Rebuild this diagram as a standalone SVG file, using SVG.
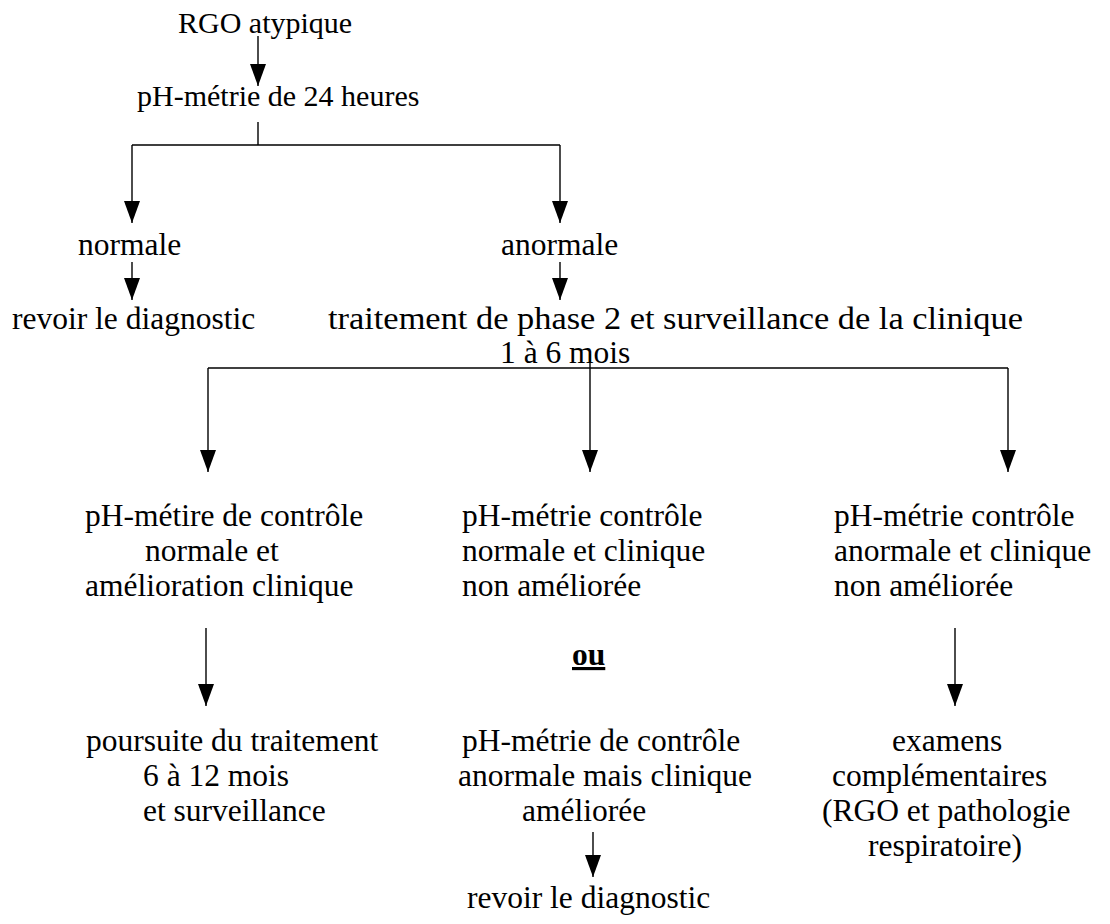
<svg xmlns="http://www.w3.org/2000/svg" width="1110" height="924" viewBox="0 0 1110 924">
<style>
text{font-family:"Liberation Serif","Times New Roman",serif;font-size:31.5px;fill:#000}
.s{font-size:30px}
.c line,.c path{stroke:#000;stroke-width:1.4;fill:none}
.b{font-weight:bold;text-decoration:underline}
</style>
<defs>
<marker id="ah" viewBox="0 0 22 16" markerWidth="22" markerHeight="16" markerUnits="userSpaceOnUse" refX="22" refY="8" orient="auto">
<path d="M0,0 L22,8 L0,16 z" fill="#000"/>
</marker>
</defs>
<rect width="1110" height="924" fill="#fff"/>
<g id="connectors" class="c">
<line x1="258" y1="36" x2="258" y2="86" marker-end="url(#ah)"/>
<path d="M258,122 V145 M132,145 H560"/>
<line x1="132" y1="145" x2="132" y2="223" marker-end="url(#ah)"/>
<line x1="560" y1="145" x2="560" y2="223" marker-end="url(#ah)"/>
<line x1="132" y1="262" x2="132" y2="300" marker-end="url(#ah)"/>
<line x1="560" y1="262" x2="560" y2="300" marker-end="url(#ah)"/>
<path d="M208,368 H1008"/>
<line x1="590" y1="354" x2="590" y2="472" marker-end="url(#ah)"/>
<line x1="208" y1="368" x2="208" y2="472" marker-end="url(#ah)"/>
<line x1="1008" y1="368" x2="1008" y2="472" marker-end="url(#ah)"/>
<line x1="206" y1="628" x2="206" y2="706" marker-end="url(#ah)"/>
<line x1="955" y1="628" x2="955" y2="706" marker-end="url(#ah)"/>
<line x1="593" y1="832" x2="593" y2="877" marker-end="url(#ah)"/>
</g>
<g id="n-rgo"><text class="s" x="178" y="33">RGO atypique</text></g>
<g id="n-phmetrie"><text class="s" x="137" y="106">pH-métrie de 24 heures</text></g>
<g id="n-normale"><text x="78" y="255">normale</text></g>
<g id="n-anormale"><text x="501" y="255">anormale</text></g>
<g id="n-revoir1"><text x="12" y="329">revoir le diagnostic</text></g>
<g id="n-traitement"><text x="328" y="329" textLength="695" lengthAdjust="spacingAndGlyphs">traitement de phase 2 et surveillance de la clinique</text><text x="500" y="363">1 à 6 mois</text></g>
<g id="n-col1"><text x="85" y="526">pH-métire de contrôle</text><text x="145" y="561">normale et</text><text x="85" y="596">amélioration clinique</text></g>
<g id="n-col2"><text x="462" y="526">pH-métrie contrôle</text><text x="462" y="561">normale et clinique</text><text x="462" y="596">non améliorée</text></g>
<g id="n-col3"><text x="834" y="526">pH-métrie contrôle</text><text x="834" y="561">anormale et clinique</text><text x="834" y="596">non améliorée</text></g>
<g id="n-ou"><text class="b" x="572" y="665">ou</text></g>
<g id="n-poursuite"><text x="86" y="751">poursuite du traitement</text><text x="143" y="786">6 à 12 mois</text><text x="143" y="821">et surveillance</text></g>
<g id="n-col2b"><text x="462" y="751">pH-métrie de contrôle</text><text x="458" y="786">anormale mais clinique</text><text x="522" y="821">améliorée</text></g>
<g id="n-examens"><text x="892" y="751">examens</text><text x="832" y="786">complémentaires</text><text x="822" y="821">(RGO et pathologie</text><text x="868" y="856">respiratoire)</text></g>
<g id="n-revoir2"><text x="467" y="908">revoir le diagnostic</text></g>
</svg>
